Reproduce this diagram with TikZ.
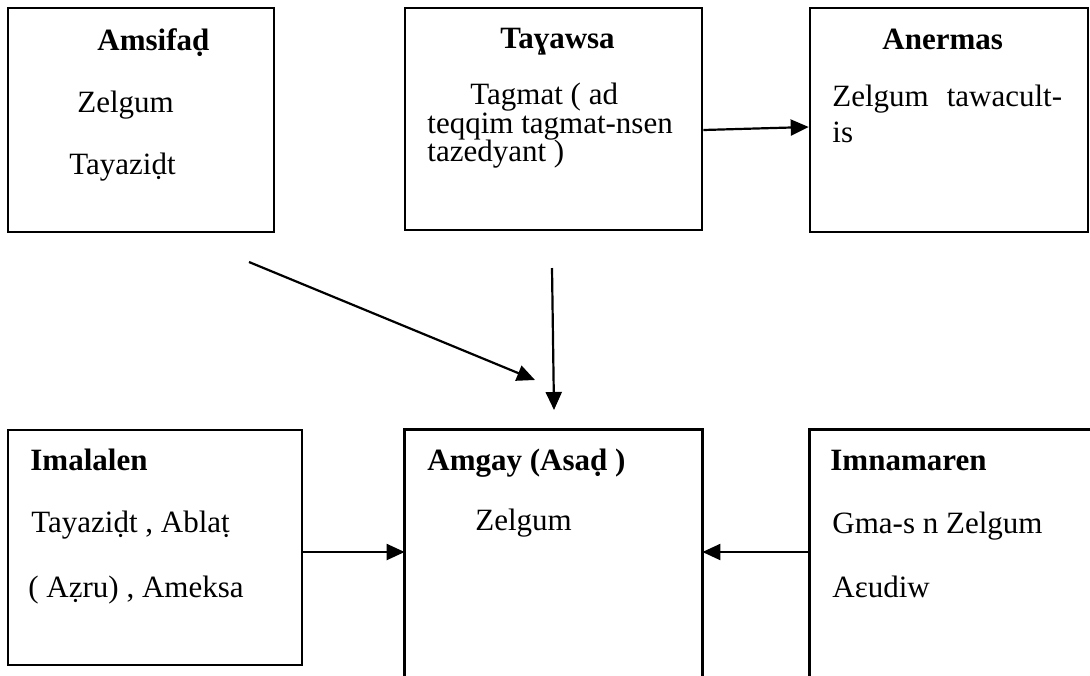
\documentclass[tikz,border=0pt]{standalone}
\usepackage{fontspec}
\setmainfont{Liberation Serif}
\usetikzlibrary{arrows.meta}
\begin{document}
\begin{tikzpicture}[x=0.5pt,y=-0.5pt,
  box/.style={draw,line width=1.3pt,rectangle,inner sep=0pt},
  openbox/.style={rectangle,inner sep=0pt},
  edge/.style={line width=1.3pt},
  txt/.style={anchor=base west,inner sep=0pt,font=\fontsize{15.5}{18}\selectfont},
  hd/.style={anchor=base west,inner sep=0pt,font=\fontsize{15.5}{18}\selectfont\bfseries},
  arr/.style={line width=1.1pt,-{Triangle[length=9pt,width=8pt]}}]
\useasboundingbox (0,0) rectangle (1090,675);
\fill[white] (0,0) rectangle (1090,675);
\clip (0,0) rectangle (1090,675);

% boxes
\node[box,minimum width=133pt,minimum height=112pt] (A) at (141,120) {};
\node[box,minimum width=148.5pt,minimum height=111pt] (T) at (553.5,119) {};
\node[box,minimum width=139pt,minimum height=112pt] (N) at (949,120) {};
\node[box,minimum width=147pt,minimum height=117.5pt] (I) at (155,547.5) {};
\node[openbox,minimum width=148.5pt,minimum height=244pt] (G) at (553.5,674) {};
\node[openbox,minimum width=150pt,minimum height=244pt] (M) at (960,674) {};
\draw[edge] (G.south west) -- (G.north west) -- (G.north east) -- (G.south east);
\draw[edge] (M.south west) -- (M.north west) -- (M.north east);

% texts
\node[hd] (a0) at (97,50) {Amsifaḍ};
\node[txt] (a1) at (77,112) {Zelgum};
\node[txt] (a2) at (69,174) {Tayaziḍt};

\node[hd] (t0) at (500,48) {Taɣawsa};
\node[txt] (t1) at (470,104) {Tagmat ( ad};
\node[txt] (t2) at (427,133) {teqqim tagmat-nsen};
\node[txt] (t3) at (427,161) {tazedyant )};

\node[hd] (n0) at (882,49) {Anermas};
\node[txt] (n1) at (832,106) {Zelgum\hspace{9pt}tawacult-};
\node[txt] (n2) at (832,142) {is};

\node[hd] (i0) at (30,470) {Imalalen};
\node[txt] (i1) at (31,532) {Tayaziḍt , Ablaṭ};
\node[txt] (i2) at (28,597) {( Aẓru) , Ameksa};

\node[hd] (g0) at (427,470) {Amgay (Asaḍ )};
\node[txt] (g1) at (475,530) {Zelgum};

\node[hd] (m0) at (830,470) {Imnamaren};
\node[txt] (m1) at (832,533) {Gma-s n Zelgum};
\node[txt] (m2) at (832,597) {Aɛudiw};

% connectors
\coordinate (d1) at (249,262);
\coordinate (d2) at (535,380);
\coordinate (v1) at (552,268);
\coordinate (v2) at (554,410);
\coordinate (ia) at ([yshift=-2.25pt]I.east);
\draw[arr] ([yshift=-5.5pt]T.east) -- ([yshift=-3.5pt]N.west);
\draw[arr] (d1) -- (d2);
\draw[arr] (v1) -- (v2);
\draw[arr] (ia) -- (ia -| G.west);
\draw[arr] (ia -| M.west) -- (ia -| G.east);
\end{tikzpicture}
\end{document}
